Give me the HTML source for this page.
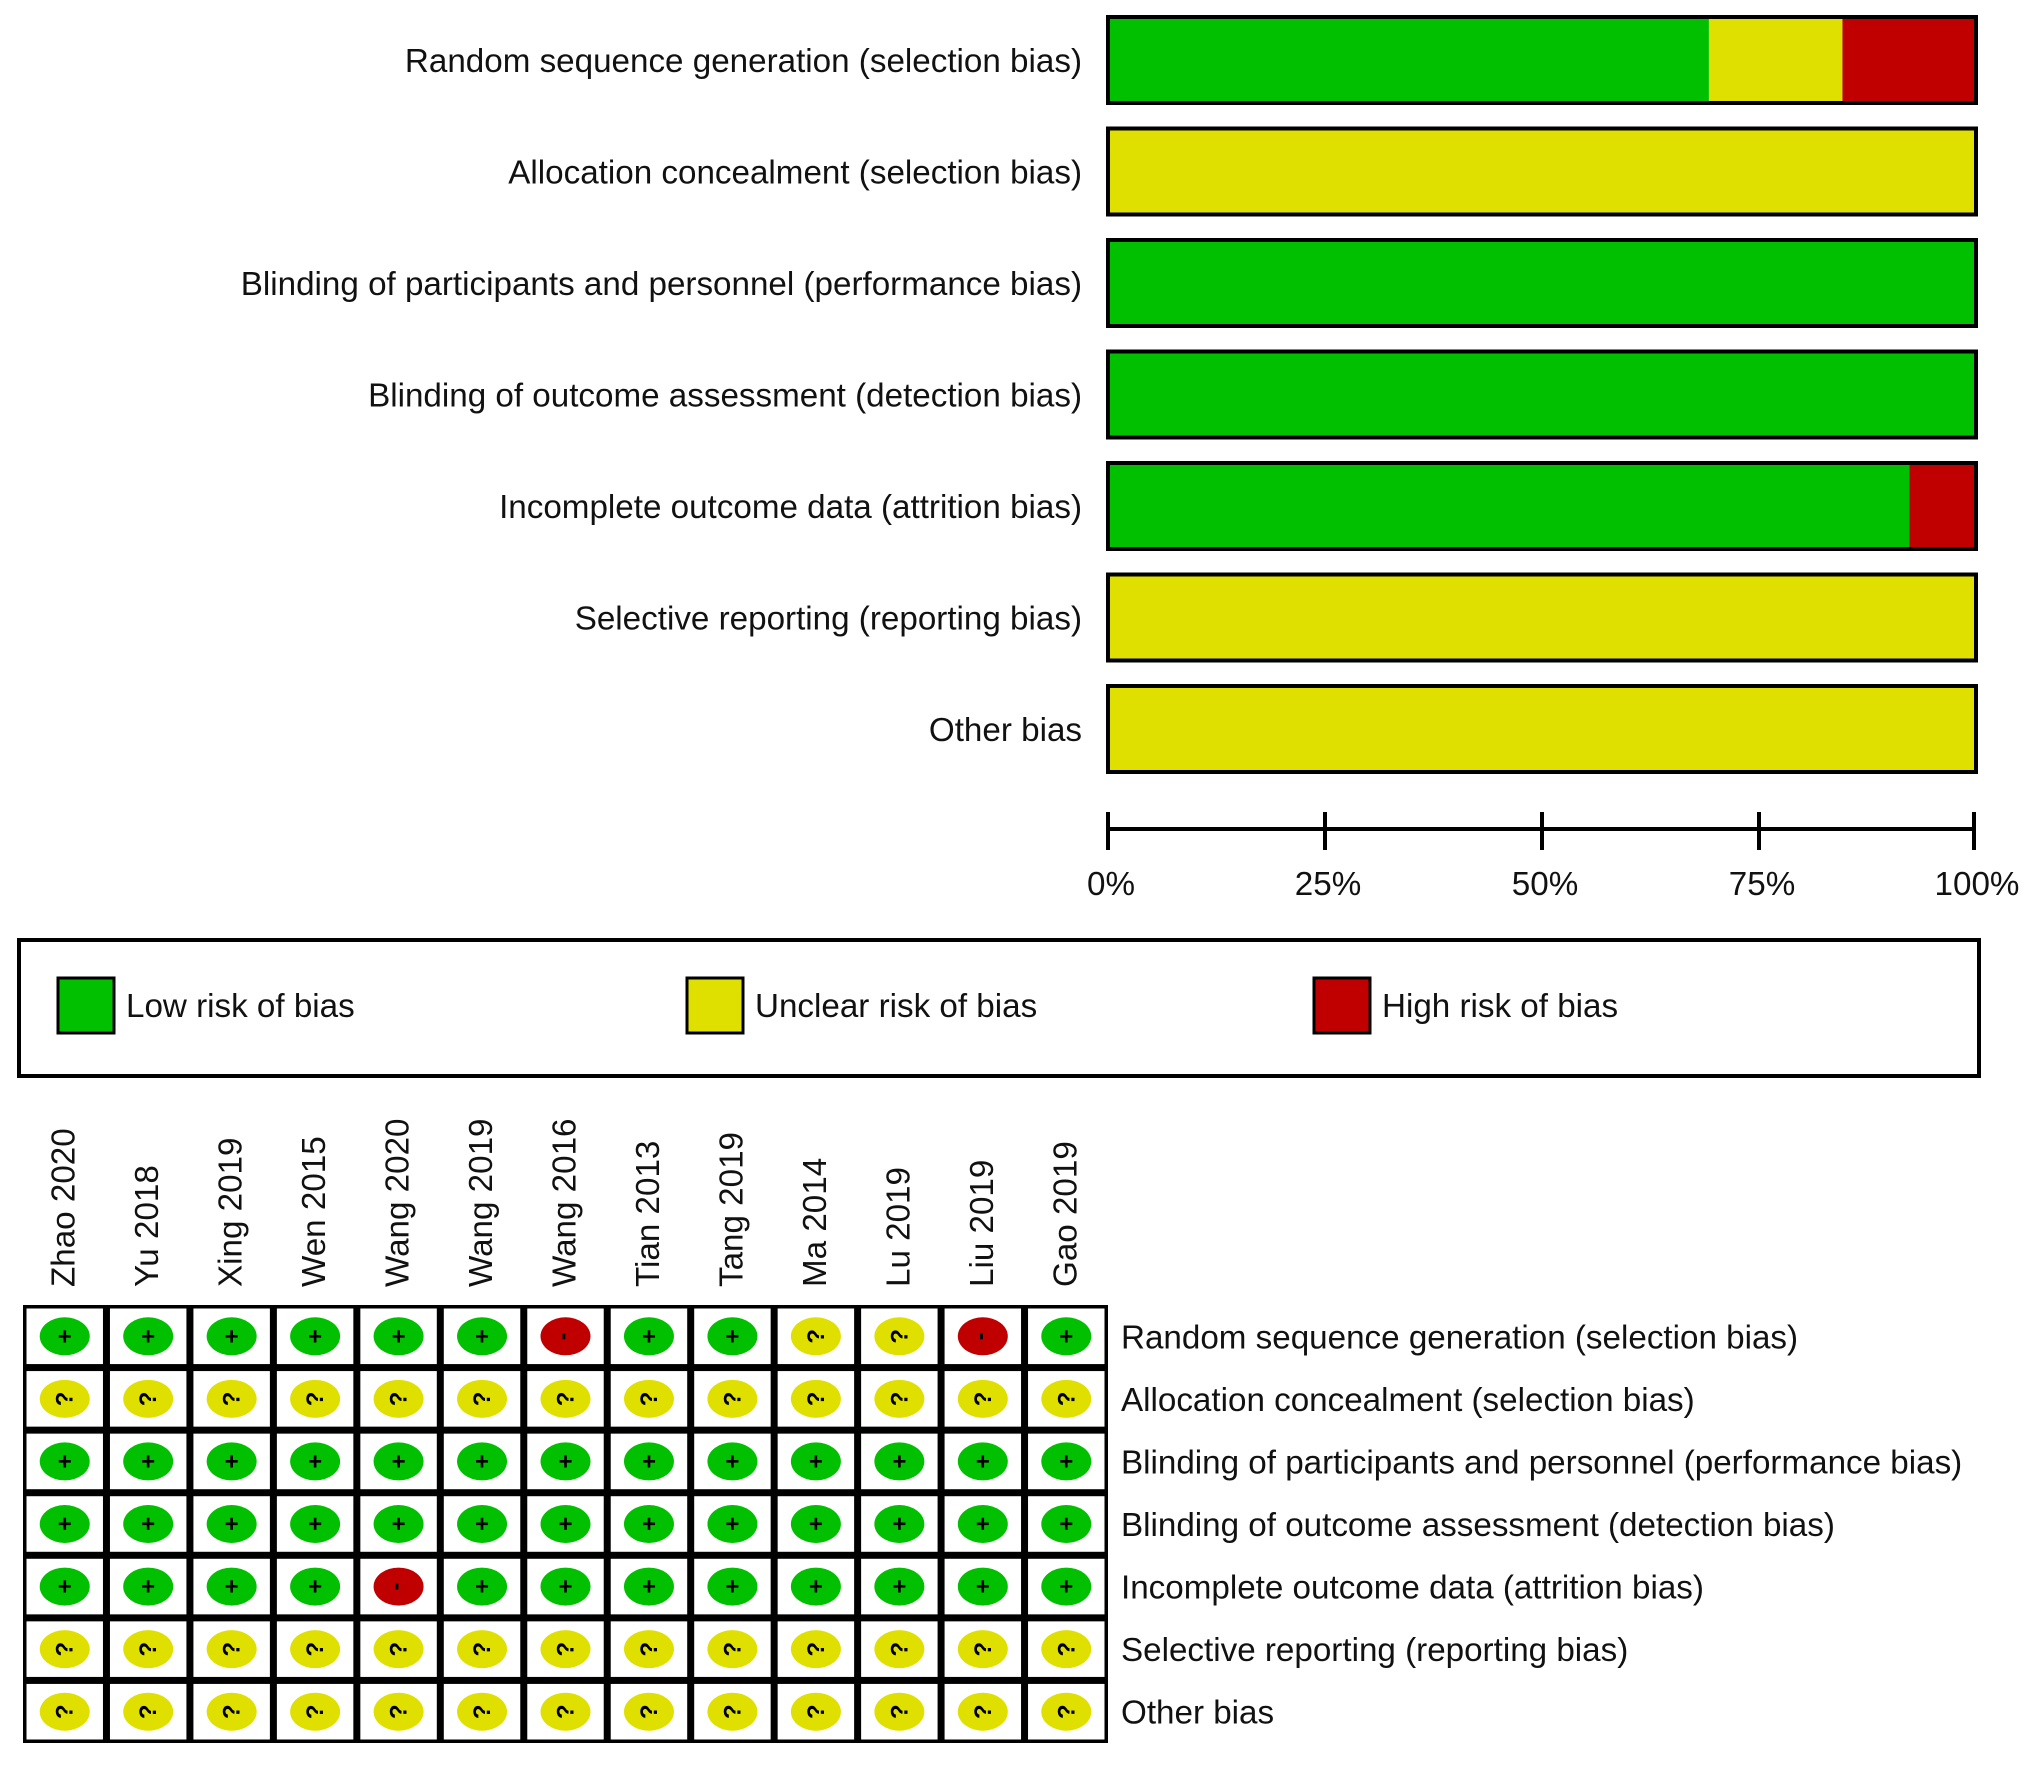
<!DOCTYPE html>
<html><head><meta charset="utf-8"><style>
html,body{margin:0;padding:0;background:#fff;}
svg{display:block;font-family:"Liberation Sans",Arial,sans-serif;}
</style></head><body>
<svg id="chart" width="2032" height="1765" viewBox="0 0 2032 1765" xmlns="http://www.w3.org/2000/svg"></svg>
<script>
const domains = ["Random sequence generation (selection bias)","Allocation concealment (selection bias)","Blinding of participants and personnel (performance bias)","Blinding of outcome assessment (detection bias)","Incomplete outcome data (attrition bias)","Selective reporting (reporting bias)","Other bias"];
const studies = ["Zhao 2020","Yu 2018","Xing 2019","Wen 2015","Wang 2020","Wang 2019","Wang 2016","Tian 2013","Tang 2019","Ma 2014","Lu 2019","Liu 2019","Gao 2019"];
// L=low, U=unclear, H=high ; one string per domain, one char per study
const judgments = [
 "LLLLLLHLLUUHL",
 "UUUUUUUUUUUUU",
 "LLLLLLLLLLLLL",
 "LLLLLLLLLLLLL",
 "LLLLHLLLLLLLL",
 "UUUUUUUUUUUUU",
 "UUUUUUUUUUUUU"
];
const tickLabels = ["0%","25%","50%","75%","100%"];
const tickValues = [0,25,50,75,100];

const C = {L:"#00c000",U:"#e0e000",H:"#c00000"};
const FS = 33.2;
const NS="http://www.w3.org/2000/svg";
const svg=document.getElementById('chart');
function mk(t,a,p){const e=document.createElementNS(NS,t);for(const k in a)e.setAttribute(k,a[k]);(p||svg).appendChild(e);return e;}

const x0=1108,x1=1976;
const xs=v=>x0+(x1-x0)*v/100;
const barTop=17,barPitch=111.5,barH=86;
domains.forEach((d,i)=>{
  const y=barTop+i*barPitch;
  const lab=mk('text',{x:1082,y:y+barH/2+12,'text-anchor':'end','font-size':FS,fill:'#111'});
  lab.textContent=d;
  
  
  const n=judgments[i].length;
  let acc=0;
  ["L","U","H"].forEach(k=>{
    const cnt=judgments[i].split('').filter(c=>c===k).length;
    if(!cnt)return;
    const pct=cnt/n*100;
    const r=mk('rect',{x:xs(acc),y:y,width:xs(acc+pct)-xs(acc),height:barH,fill:C[k]});
    
    
    acc+=pct;
  });
  const o=mk('rect',{x:x0,y:y,width:x1-x0,height:barH,fill:'none',stroke:'#000','stroke-width':4});
  
  
});
const ax=mk('line',{x1:xs(0),x2:xs(100)-2,y1:829,y2:829,stroke:'#000','stroke-width':4});


tickValues.forEach((v,i)=>{
  const tx=Math.min(xs(v),x1-2);
  const t=mk('line',{x1:tx,x2:tx,y1:812,y2:850,stroke:'#000','stroke-width':4});
  
  
  const l=mk('text',{x:tx+3,y:895,'text-anchor':'middle','font-size':FS,fill:'#111'});
  l.textContent=tickLabels[i];
  
  
});

const lg=mk('rect',{x:19,y:940,width:1960,height:136,fill:'none',stroke:'#000','stroke-width':4});


[["L",58,"Low risk of bias"],["U",687,"Unclear risk of bias"],["H",1314,"High risk of bias"]].forEach(e=>{
  const s=mk('rect',{x:e[1],y:978,width:56,height:55,fill:C[e[0]],stroke:'#000','stroke-width':3});
  
  
  const t=mk('text',{x:e[1]+68,y:1017,'font-size':FS,fill:'#111'});
  t.textContent=e[2];
  
  
});

const gx0=23,gx1=1108,gy0=1305,gy1=1743;
const cw=(gx1-gx0)/studies.length, rh=(gy1-gy0)/domains.length;
studies.forEach((s,j)=>{
  const cx=gx0+cw*(j+0.5)+10;
  const t=mk('text',{x:0,y:0,'font-size':FS,fill:'#111','text-anchor':'start',transform:`translate(${cx},1287) rotate(-90)`});
  t.textContent=s;
  
  
});
const bg=mk('rect',{x:gx0,y:gy0,width:gx1-gx0,height:gy1-gy0,fill:'#000'});


domains.forEach((d,i)=>{
  const y=gy0+i*rh;
  judgments[i].split('').forEach((k,j)=>{
    const x=gx0+j*cw;
    const c=mk('rect',{x:x+3.5,y:y+3.5,width:cw-7,height:rh-7,fill:'#fff'});
    
    
    const cx=x+cw/2, cy=y+rh/2;
    const e=mk('ellipse',{cx:cx,cy:cy,rx:25,ry:19,fill:C[k]});
    
    
    const sym=mk('text',{x:cx,y:cy+8,'text-anchor':'middle','font-size':24,'font-weight':'bold',fill:'#000'});
    sym.textContent=k==="L"?"+":k==="H"?"-":"?";
    if(k==="U")sym.setAttribute('transform',`rotate(-90 ${cx} ${cy})`);
    if(k==="H")sym.setAttribute('transform',`rotate(90 ${cx} ${cy})`);
    
    
  });
  const l=mk('text',{x:1121,y:y+rh/2+12,'font-size':FS,fill:'#111'});
  l.textContent=d;
  
  
});
</script>
</body></html>
